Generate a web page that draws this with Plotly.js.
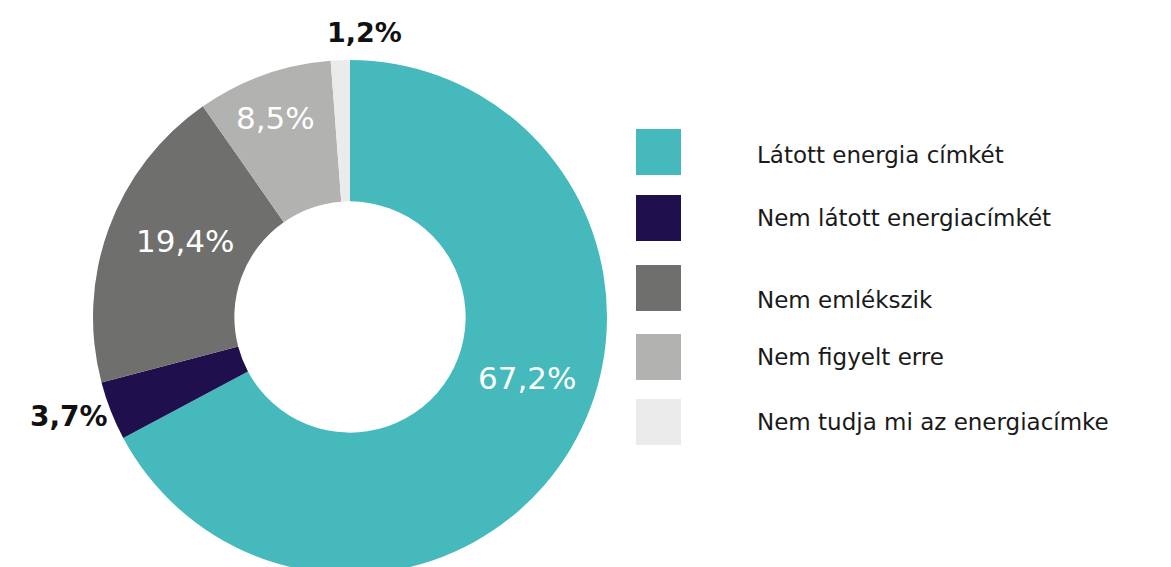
<!DOCTYPE html>
<html>
<head>
<meta charset="utf-8">
<script src="https://cdn.plot.ly/plotly-3.0.1.min.js"></script>
<style>
html,body{margin:0;padding:0;overflow:hidden;background:#fff;}
#chart{width:1171px;height:600px;}
</style>
</head>
<body>
<div id="chart"></div>
<script>
// Data
var categories = ["Látott energia címkét", "Nem látott energiacímkét", "Nem emlékszik", "Nem figyelt erre", "Nem tudja mi az energiacímke"];
var values = [67.2, 3.7, 19.4, 8.5, 1.2];
var colors = ["#46B9BC", "#1F104D", "#6F6F6E", "#B2B2B1", "#EBEBEB"];

// Styling / layout helpers (pixel -> paper)
var W = 1171, H = 600;
function px(x){ return x / W; }
function py(y){ return 1 - y / H; }

var fmt = function(v){ return v.toFixed(1).replace('.', ',') + '%'; };

var labelPos = [[527, 378], [69, 416], [185, 241], [275, 118], [364, 32]];
var labelInside = [true, false, true, true, false];
var labelSize = [31, 28, 31, 31, 27];

var annotations = [];
values.forEach(function(v, i){
  annotations.push({
    xref: 'paper', yref: 'paper',
    x: px(labelPos[i][0]), y: py(labelPos[i][1]),
    xanchor: 'center', yanchor: 'middle',
    showarrow: false,
    text: labelInside[i] ? fmt(v) : '<b>' + fmt(v) + '</b>',
    font: {family: 'DejaVu Sans', size: labelSize[i], color: labelInside[i] ? '#ffffff' : '#111111'}
  });
});

// Custom legend
var legendBoxTop = [129, 195, 265, 334, 399];
var legendTextY = [155, 218, 300, 357, 422];
var shapes = [];
categories.forEach(function(c, i){
  shapes.push({
    type: 'rect', xref: 'paper', yref: 'paper',
    x0: px(636), x1: px(681),
    y0: py(legendBoxTop[i] + 46), y1: py(legendBoxTop[i]),
    fillcolor: colors[i], line: {width: 0}
  });
  annotations.push({
    xref: 'paper', yref: 'paper',
    x: px(755), y: py(legendTextY[i]),
    xanchor: 'left', yanchor: 'middle',
    showarrow: false,
    text: c,
    font: {family: 'DejaVu Sans', size: 23, color: '#1a1a1a'}
  });
});

var trace = {
  type: 'pie',
  labels: categories,
  values: values,
  marker: {colors: colors, line: {width: 0}},
  hole: 0.45,
  sort: false,
  direction: 'clockwise',
  rotation: 0,
  textinfo: 'none',
  hoverinfo: 'label+percent',
  showlegend: false,
  domain: {x: [px(93), px(607)], y: [py(574), py(60)]}
};

var layout = {
  width: W, height: H,
  margin: {l: 0, r: 0, t: 0, b: 0},
  paper_bgcolor: '#ffffff',
  showlegend: false,
  annotations: annotations,
  shapes: shapes
};

Plotly.newPlot('chart', [trace], layout, {displayModeBar: false, staticPlot: true});
</script>
</body>
</html>
